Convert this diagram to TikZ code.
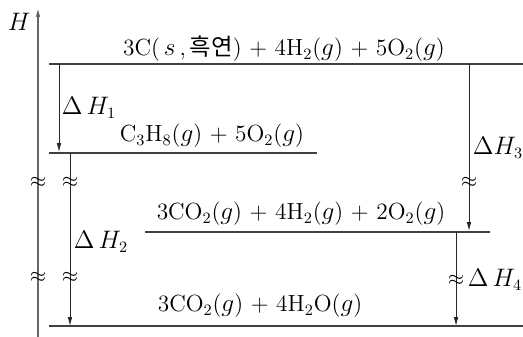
\documentclass[tikz,border=0pt]{standalone}
\usepackage{fontspec}
\newfontfamily\kr{Noto Sans CJK KR}
\usetikzlibrary{arrows.meta}

\tikzset{
    lvl/.style={draw=black!75, line width=0.6pt},
    dh/.style={draw=black!85, line width=0.5pt, -{Latex[length=5pt,width=2.6pt]}},
    axis/.style={draw=black!60, line width=0.8pt, -{Latex[length=5pt,width=2.6pt]}},
    txt/.style={inner sep=0pt, font=\fontsize{13.3}{15}\selectfont},
    brk/.style={inner sep=0pt, font=\fontsize{13}{15}\selectfont}
}

\begin{document}
\begin{tikzpicture}[x=0.02cm, y=-0.02cm]
    \useasboundingbox (0,0) rectangle (523,337);
    \coordinate (ax0) at (38,337);
    \coordinate (ax1) at (38,8);
	\draw (19,22) node[txt] (H) {$H$};
    \draw[axis] (ax0) -- (ax1);
	\draw (38,182) node[brk] (axb1) {$\approx$};
	\draw (38,277) node[brk] (axb2) {$\approx$};

    \coordinate (l1a) at (49,64);
    \coordinate (l1b) at (523,64);
	\coordinate (l2a) at (49,153);
	\coordinate (l2b) at (317,153);
	\coordinate (l3a) at (145,232);
    \coordinate (l3b) at (490,232);
	\coordinate (l4a) at (49,326);
	\coordinate (l4b) at (523,326);
    \draw[lvl] (l1a) -- (l1b);
    \draw[lvl] (l2a) -- (l2b);
    \draw[lvl] (l3a) -- (l3b);
    \draw[lvl] (l4a) -- (l4b);

    \draw (284,49) node[txt] (s1) {3C(\,$s$\,,\,{\kr 흑연}) + 4H$_2$($g$) + 5O$_2$($g$)};
	\draw (212,136) node[txt] (s2) {C$_3$H$_8$($g$) + 5O$_2$($g$)};
	\draw (301,214) node[txt] (s3) {3CO$_2$($g$) + 4H$_2$($g$) + 2O$_2$($g$)};
	\draw (260,306) node[txt] (s4) {3CO$_2$($g$) + 4H$_2$O($g$)};

    \coordinate (d1a) at (59,64);
    \coordinate (d1b) at (59,152);
	\coordinate (d2a) at (70,153);
	\coordinate (d2b) at (70,326);
	\coordinate (d3a) at (469,64);
	\coordinate (d3b) at (469,231);
    \coordinate (d4a) at (456,232);
    \coordinate (d4b) at (456,326);
    \draw[dh] (d1a) -- (d1b);
    \draw[dh] (d2a) -- (d2b);
    \draw[dh] (d3a) -- (d3b);
    \draw[dh] (d4a) -- (d4b);
	\draw (70,182) node[brk] (d2k1) {$\approx$};
	\draw (70,277) node[brk] (d2k2) {$\approx$};
	\draw (469,182) node[brk] (d3k) {$\approx$};
	\draw (456,280) node[brk] (d4k) {$\approx$};

    \draw (89,108) node[txt] (dH1) {$\Delta\,H_1$};
	\draw (101,242) node[txt] (dH2) {$\Delta\,H_2$};
	\draw (498,148) node[txt] (dH3) {$\Delta H_3$};
	\draw (495,280) node[txt] (dH4) {$\Delta\,H_4$};
\end{tikzpicture}
\end{document}
